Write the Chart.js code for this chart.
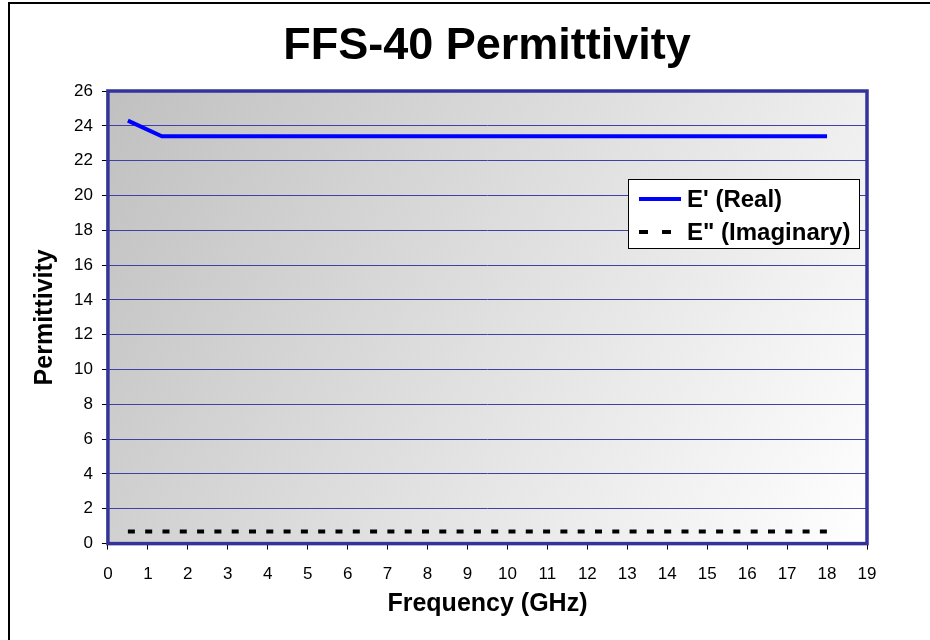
<!DOCTYPE html>
<html>
<head>
<meta charset="utf-8">
<script src="https://cdn.jsdelivr.net/npm/chart.js@4.4.0/dist/chart.umd.min.js"></script>
<style>
  html, body { margin: 0; padding: 0; background: #fff; }
  #wrap { position: relative; width: 930px; height: 640px; }
  canvas { display: block; }
</style>
</head>
<body>
<div id="wrap"><canvas id="chart" width="930" height="640"></canvas></div>
<script>
// --- datos ---
const realFreq = [0.5, 1.35, 18];
const realValues = [24.3, 23.4, 23.4];
const imagFreq = [0.5, 18];
const imagValues = [0.7, 0.7];
const seriesNames = ["E' (Real)", 'E" (Imaginary)'];
const chartTitle = 'FFS-40 Permittivity';
const xRange = [0, 19];
const yRange = [0, 26];

const FONT = 'Arial, "Liberation Sans", sans-serif';
const NAVY = '#333399';

const toPoints = (xs, ys) => xs.map((x, i) => ({ x: x, y: ys[i] }));

// fondo degradado, marco exterior y título centrado en el gráfico completo
const plotArea = {
    id: 'plotArea',
    beforeDraw(chart) {
        const { ctx, chartArea: a } = chart;
        ctx.save();
        const g = ctx.createLinearGradient(a.left, a.top, a.right, a.bottom);
        g.addColorStop(0, '#c0c0c0');
        g.addColorStop(1, '#ffffff');
        ctx.fillStyle = g;
        ctx.fillRect(a.left, a.top, a.right - a.left, a.bottom - a.top);
        // marco exterior (recortado en la imagen original)
        ctx.strokeStyle = '#000';
        ctx.lineWidth = 2;
        ctx.beginPath();
        ctx.moveTo(9, 660);
        ctx.lineTo(9, 3);
        ctx.lineTo(940, 3);
        ctx.stroke();
        // título
        ctx.fillStyle = '#000';
        ctx.font = 'bold 45px ' + FONT;
        ctx.textAlign = 'center';
        ctx.textBaseline = 'alphabetic';
        ctx.fillText(chartTitle, 487, 59);
        ctx.restore();
    },
    afterDatasetsDraw(chart) {
        const { ctx, chartArea: a } = chart;
        ctx.save();
        ctx.strokeStyle = NAVY;
        ctx.lineWidth = 3.5;
        ctx.strokeRect(a.left, a.top, a.right - a.left, a.bottom - a.top);
        ctx.restore();
    }
};

// leyenda dentro del área, como en el original
const boxLegend = {
    id: 'boxLegend',
    afterDraw(chart) {
        const { ctx } = chart;
        const x = 628, y = 179, w = 231, h = 69;
        ctx.save();
        ctx.fillStyle = '#fff';
        ctx.fillRect(x, y, w, h);
        ctx.strokeStyle = '#000';
        ctx.lineWidth = 1;
        ctx.strokeRect(x + 0.5, y + 0.5, w, h);
        ctx.font = 'bold 24px ' + FONT;
        ctx.textBaseline = 'middle';
        chart.data.datasets.forEach((ds, i) => {
            const cy = y + 20 + i * 33;
            ctx.strokeStyle = ds.borderColor;
            ctx.lineWidth = ds.borderWidth;
            ctx.setLineDash(ds.borderDash ? [9, 14] : []);
            ctx.beginPath();
            ctx.moveTo(x + 11, cy);
            ctx.lineTo(x + 53, cy);
            ctx.stroke();
            ctx.setLineDash([]);
            ctx.fillStyle = '#000';
            ctx.fillText(ds.label, x + 59, cy + 1);
        });
        ctx.restore();
    }
};

new Chart(document.getElementById('chart'), {
    type: 'scatter',
    data: {
        datasets: [{
            label: seriesNames[0],
            data: toPoints(realFreq, realValues),
            showLine: true,
            borderColor: '#0000ff',
            borderWidth: 4,
            pointRadius: 0,
            tension: 0
        }, {
            label: seriesNames[1],
            data: toPoints(imagFreq, imagValues),
            showLine: true,
            borderColor: '#000000',
            borderWidth: 4,
            borderDash: [7, 10.3],
            borderCapStyle: 'butt',
            pointRadius: 0
        }]
    },
    options: {
        responsive: false,
        animation: false,
        devicePixelRatio: 1,
        layout: { padding: { left: 24, right: 63, top: 91, bottom: 17 } },
        plugins: {
            legend: { display: false },
            tooltip: { enabled: false },
            title: { display: false }
        },
        scales: {
            x: {
                type: 'linear',
                min: xRange[0],
                max: xRange[1],
                ticks: { stepSize: 1, color: '#000', font: { family: FONT, size: 17 }, padding: 15 },
                grid: { drawOnChartArea: false, tickColor: '#000', tickLength: 6 },
                border: { display: false },
                title: {
                    display: true,
                    text: 'Frequency (GHz)',
                    color: '#000',
                    font: { family: FONT, size: 25, weight: 'bold' },
                    padding: { top: -11, bottom: 4 }
                }
            },
            y: {
                min: yRange[0],
                max: yRange[1],
                ticks: { stepSize: 2, color: '#000', font: { family: FONT, size: 17 }, padding: 9 },
                grid: { color: '#4040a6', lineWidth: 1, tickColor: '#000', tickLength: 6 },
                border: { display: false },
                title: {
                    display: true,
                    text: 'Permittivity',
                    color: '#000',
                    font: { family: FONT, size: 25, weight: 'bold' },
                    padding: { top: 6, bottom: 5 }
                }
            }
        }
    },
    plugins: [plotArea, boxLegend]
});
</script>
</body>
</html>
